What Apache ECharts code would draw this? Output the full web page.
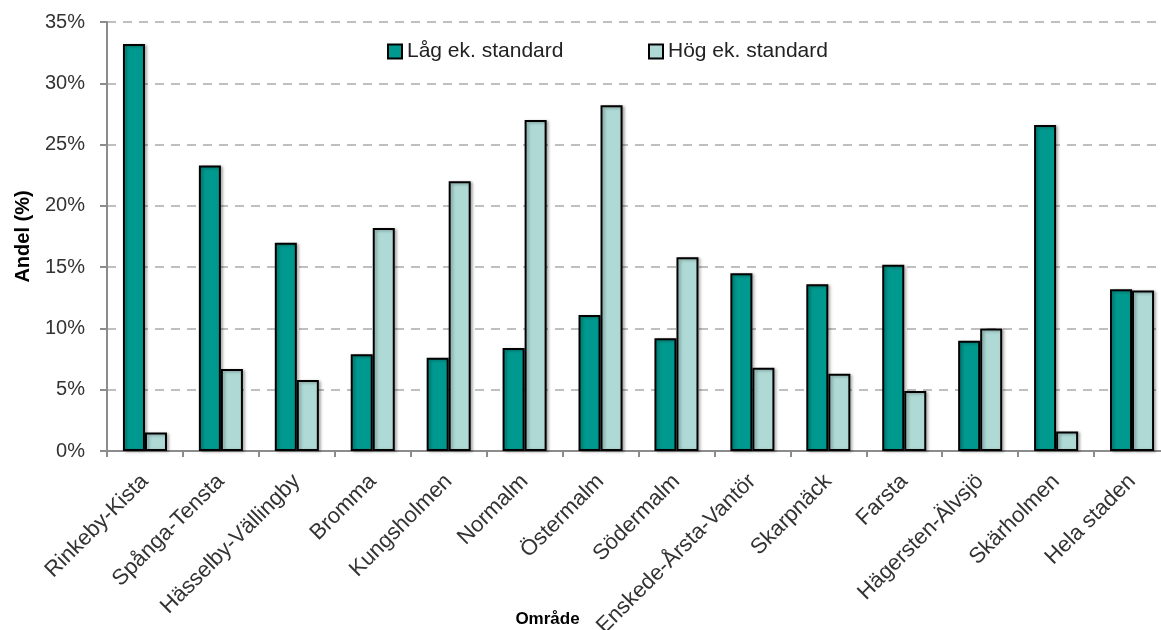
<!DOCTYPE html>
<html><head><meta charset="utf-8">
<script src="https://cdn.jsdelivr.net/npm/echarts@6/dist/echarts.min.js"></script>
<style>html,body{margin:0;padding:0;background:#fff}#c{width:1161px;height:630px}</style>
</head><body><div id="c"></div>
<script>
var categories = ["Rinkeby-Kista","Spånga-Tensta","Hässelby-Vällingby","Bromma","Kungsholmen","Normalm","Östermalm","Södermalm","Enskede-Årsta-Vantör","Skarpnäck","Farsta","Hägersten-Älvsjö","Skärholmen","Hela staden"];
var lowValues = [33.2, 23.3, 17.0, 7.9, 7.6, 8.4, 11.1, 9.2, 14.5, 13.6, 15.2, 9.0, 26.6, 13.2];
var highValues = [1.5, 6.7, 5.8, 18.2, 22.0, 27.0, 28.2, 15.8, 6.8, 6.3, 4.9, 10.0, 1.6, 13.1];
var seriesNames = ["Låg ek. standard", "Hög ek. standard"];
var yTicks = [0, 5, 10, 15, 20, 25, 30, 35];

var chart = echarts.init(document.getElementById('c'));
var font = '"Liberation Sans", Arial, sans-serif';
var barStyle = function(color){
  return {color: color, borderColor: '#000', borderWidth: 2,
          shadowColor: 'rgba(0,0,0,0.3)', shadowBlur: 3, shadowOffsetX: 2, shadowOffsetY: 1};
};
chart.setOption({
  animation: false,
  legend: [
    {data: [seriesNames[0]], left: 382, top: 36, icon: 'rect', itemWidth: 14, itemHeight: 14, itemGap: 6,
     textStyle: {fontFamily: font, fontSize: 21, color: '#222'}},
    {data: [seriesNames[1]], left: 643, top: 36, icon: 'rect', itemWidth: 14, itemHeight: 14, itemGap: 6,
     textStyle: {fontFamily: font, fontSize: 21, color: '#222'}}
  ],
  grid: {left: 107, right: -9, top: 22, bottom: 179, containLabel: false, outerBoundsMode: 'none'},
  xAxis: {
    type: 'category', data: categories,
    name: 'Område', nameLocation: 'middle', nameGap: 160, nameMoveOverlap: false,
    nameTextStyle: {fontFamily: font, fontSize: 17, fontWeight: 'bold', color: '#000', padding: [0, 182, 0, 0]},
    axisLine: {lineStyle: {color: '#8c8c8c', width: 2}},
    axisTick: {show: true, length: 6, alignWithLabel: false, lineStyle: {color: '#8c8c8c', width: 2}},
    axisLabel: {rotate: 45, interval: 0, margin: 27, fontFamily: font, fontSize: 22, color: '#333'}
  },
  yAxis: {
    type: 'value', min: 0, max: 35, interval: 5,
    name: 'Andel (%)', nameLocation: 'middle', nameGap: 74, nameRotate: 90,
    nameTextStyle: {fontFamily: font, fontSize: 20, fontWeight: 'bold', color: '#000'},
    axisLine: {show: true, lineStyle: {color: '#8c8c8c', width: 2}},
    axisTick: {show: true, length: 7, lineStyle: {color: '#8c8c8c', width: 2}},
    axisLabel: {fontFamily: font, fontSize: 20, color: '#333', margin: 22,
      formatter: function(v){ return yTicks.indexOf(v) >= 0 ? v + '%' : ''; }},
    splitLine: {lineStyle: {color: '#bfbfbf', width: 2, type: [9, 7]}}
  },
  series: [
    {name: seriesNames[0], type: 'bar', data: lowValues, barGap: '0%', barCategoryGap: '42%',
     itemStyle: barStyle('#00998f')},
    {name: seriesNames[1], type: 'bar', data: highValues, barGap: '0%', barCategoryGap: '42%',
     itemStyle: barStyle('#aed9d5')}
  ]
});
</script></body></html>
